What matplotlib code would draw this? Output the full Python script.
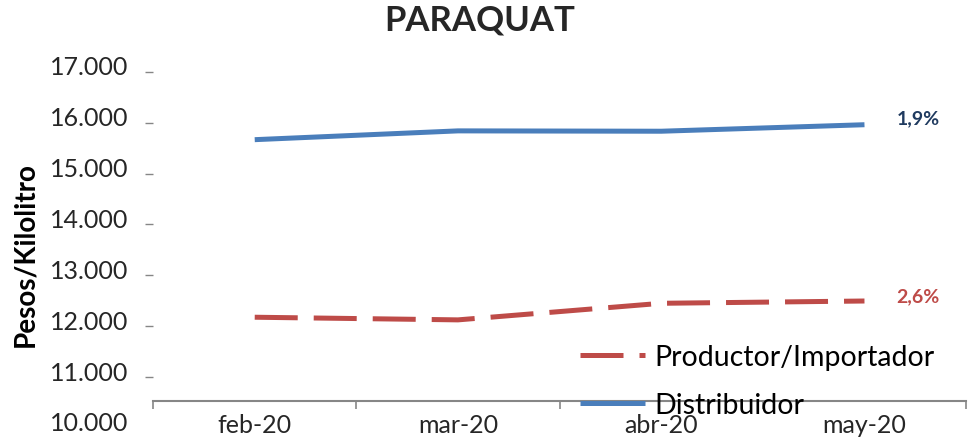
import matplotlib
matplotlib.use("Agg")
import matplotlib.pyplot as plt
import matplotlib.transforms as mtransforms
from matplotlib.ticker import FuncFormatter, FixedLocator

plt.rcParams['font.family'] = ['Lato', 'DejaVu Sans']

# data
meses = ['feb-20', 'mar-20', 'abr-20', 'may-20']
productor = [12176, 12124, 12450, 12495]
distribuidor = [15667, 15840, 15833, 15961]
var_productor = '2,6%'
var_distribuidor = '1,9%'

AZUL = '#4A7EBB'
ROJO = '#BE4B48'
AZUL_OSC = '#1F3A5F'
GRIS = '#868686'
TEXTO = '#262626'

fig = plt.figure(figsize=(9.69, 4.39), dpi=100)
ax = fig.add_axes([0.158, 0.023, 0.839, 0.811])

x = range(len(meses))
ax.plot(x, productor, color=ROJO, lw=3.6, dashes=(8.6, 3.2),
        solid_capstyle='butt', dash_capstyle='butt', label='Productor/Importador')
ax.plot(x, distribuidor, color=AZUL, lw=3.6, solid_capstyle='butt',
        label='Distribuidor')

ax.annotate(var_distribuidor, xy=(3, distribuidor[-1]), xytext=(23, 5),
            textcoords='offset points', ha='left', va='center',
            fontsize=14, fontweight='bold', color=AZUL_OSC)
ax.annotate(var_productor, xy=(3, productor[-1]), xytext=(23, 4),
            textcoords='offset points', ha='left', va='center',
            fontsize=14, fontweight='bold', color=ROJO)

ax.set_xlim(-0.5, 3.5)
ax.set_ylim(10000, 17000)
ax.set_yticks(range(10000, 17001, 1000))
ax.yaxis.set_major_formatter(FuncFormatter(lambda v, p: f'{int(v):,}'.replace(',', '.')))
ax.tick_params(axis='y', length=6, width=1, color=GRIS, pad=12,
               labelsize=18, labelcolor=TEXTO)
# the 10.000 tick sits below the category axis, only its label shows
ax.yaxis.get_major_ticks()[0].tick1line.set_visible(False)
# labels sit a little above their tick marks
subir = mtransforms.ScaledTranslation(0, 5 / 72, fig.dpi_scale_trans)
for lbl in ax.get_yticklabels():
    lbl.set_transform(lbl.get_transform() + subir)

ax.set_xticks(list(x))
ax.set_xticklabels(meses)
ax.xaxis.set_minor_locator(FixedLocator([i - 0.5 for i in range(len(meses) + 1)]))
ax.tick_params(axis='x', which='major', length=0, pad=9, labelsize=18,
               labelcolor=TEXTO)
ax.tick_params(axis='x', which='minor', length=6, width=1.2, color=GRIS)
for lbl in ax.get_xticklabels():
    lbl.set_fontweight('bold')

for s in ['left', 'right', 'top']:
    ax.spines[s].set_visible(False)
ax.spines['bottom'].set_position(('data', 10530))
ax.spines['bottom'].set_color(GRIS)
ax.spines['bottom'].set_linewidth(1.5)

ax.set_ylabel('Pesos/Kilolitro', fontsize=20, fontweight='bold', va='center')
ax.yaxis.set_label_coords(-0.157, 0.49)

fig.suptitle('PARAQUAT', x=0.495, y=0.954, va='center',
             fontsize=25, fontweight='bold', color=TEXTO)

ax.legend(loc='upper left', bbox_to_anchor=(0.525, 0.235), frameon=False,
          fontsize=20.5, handlelength=2.3, handletextpad=0.3, labelspacing=0.75,
          borderaxespad=0, borderpad=0)

fig.savefig('out.png', dpi=100)
